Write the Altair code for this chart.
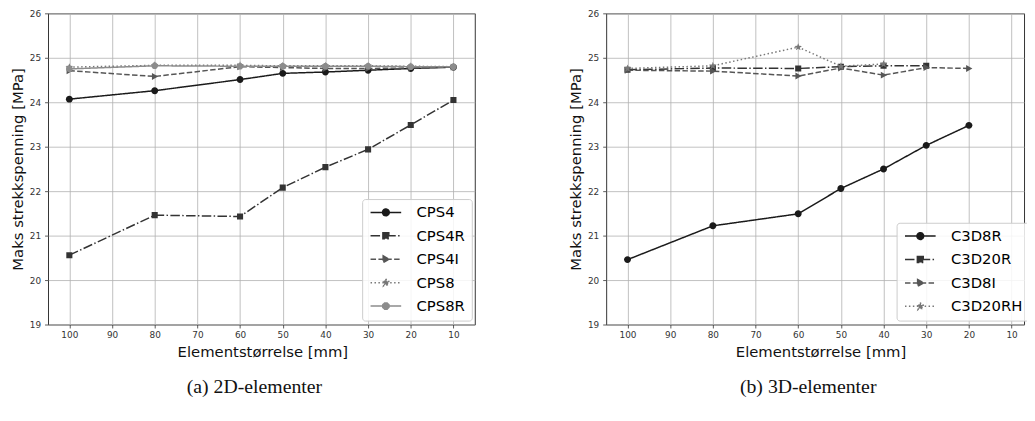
import math
import altair as alt
import pandas as pd

# ---------------- data ----------------
x_2d = [100, 80, 60, 50, 40, 30, 20, 10]
cps4 = [24.07, 24.26, 24.51, 24.65, 24.68, 24.72, 24.76, 24.79]
cps4r = [20.56, 21.46, 21.43, 22.08, 22.54, 22.94, 23.49, 24.05]
cps4i = [24.71, 24.58, 24.80, 24.78, 24.76, 24.76, 24.77, 24.79]
cps8 = [24.79, 24.83, 24.83, 24.82, 24.82, 24.82, 24.81, 24.80]
cps8r = [24.75, 24.82, 24.81, 24.81, 24.81, 24.81, 24.80, 24.80]
names_2d = ["CPS4", "CPS4R", "CPS4I", "CPS8", "CPS8R"]

x_3d = [100, 80, 60, 50, 40, 30, 20]
c3d8r = [20.46, 21.22, 21.49, 22.06, 22.50, 23.03, 23.48]
c3d20r = [24.73, 24.77, 24.76, 24.80, 24.82, 24.82]
c3d8i = [24.72, 24.70, 24.59, 24.77, 24.61, 24.78, 24.76]
c3d20rh = [24.76, 24.82, 25.24, 24.81, 24.86]
names_3d = ["C3D8R", "C3D20R", "C3D8I", "C3D20RH"]

x_ticks = [100, 90, 80, 70, 60, 50, 40, 30, 20, 10]
y_ticks = [19, 20, 21, 22, 23, 24, 25, 26]

# ---------------- styles ----------------
FONT = "DejaVu Sans"
GRAYS = ["#1a1a1a", "#333333", "#555555", "#777777", "#8c8c8c"]
SOLID = [1, 0]
DASHDOT = [9.6, 2.4, 1.5, 2.4]
DASHED = [5.55, 2.4]
DOTTED = [1.5, 2.475]


def poly(pts):
    return "M" + "L".join(f"{x:.3f},{y:.3f}" for x, y in pts) + "Z"


def circle_path(s, cx=0.0):
    return (f"M{cx + s:.3f},0A{s:.3f},{s:.3f} 0 1,1 {cx - s:.3f},0"
            f"A{s:.3f},{s:.3f} 0 1,1 {cx + s:.3f},0Z")


def square_path(s, cx=0.0):
    return poly([(cx - s, -s), (cx + s, -s), (cx + s, s), (cx - s, s)])


def tri_path(s, cx=0.0):
    return poly([(cx - 0.8 * s, -s), (cx + s, 0), (cx - 0.8 * s, s)])


def star_path(s, cx=0.0):
    pts = []
    for k in range(10):
        a = math.radians(-90 + 36 * k)
        r = s if k % 2 == 0 else 0.42 * s
        pts.append((cx + r * math.cos(a), r * math.sin(a)))
    return poly(pts)


def oct_path(s, cx=0.0):
    pts = []
    for k in range(8):
        a = math.radians(22.5 + 45 * k)
        pts.append((cx + s * math.cos(a), s * math.sin(a)))
    return poly(pts)


MARKERS = {
    "o": (circle_path, 1.0),
    "s": (square_path, 0.88),
    ">": (tri_path, 1.0),
    "*": (star_path, 1.15),
    "8": (oct_path, 1.0),
}


def panel(key, xs, ys, names, colors, dashes, marks, width, xdom, leg_xy, caption, cap_dx):
    xscale = alt.Scale(domain=xdom, nice=False, zero=False)
    yscale = alt.Scale(domain=[19, 26], nice=False, zero=False)
    xaxis = alt.Axis(
        values=x_ticks, format="d", title="Elementstørrelse [mm]", grid=True,
        domain=False, tickSize=3.5, tickWidth=0.8, tickColor="#333333",
        labelFont=FONT, labelFontSize=9, labelColor="#333333", labelPadding=3,
        labelFlush=False, labelOverlap=False,
        titleFont=FONT, titleFontSize=15, titleFontWeight="normal", titleColor="#111111",
        titleX=217, titleY=27, titleBaseline="middle", titleAlign="center",
        gridColor="#b0b0b0", gridWidth=0.8,
    )
    yaxis = alt.Axis(
        values=y_ticks, format="d", title="Maks strekkspenning [MPa]", grid=True,
        domain=False, tickSize=3.5, tickWidth=0.8, tickColor="#333333",
        labelFont=FONT, labelFontSize=9, labelColor="#333333", labelPadding=4,
        labelFlush=False, labelOverlap=False,
        titleFont=FONT, titleFontSize=15, titleFontWeight="normal", titleColor="#111111",
        titleX=-31, titleY=157.5, titleAngle=270, titleBaseline="middle", titleAlign="center",
        gridColor="#b0b0b0", gridWidth=0.8,
    )
    layers = []
    for i, name in enumerate(names):
        n = len(ys[i])
        df = pd.DataFrame({"size_mm": xs[:n], "value": ys[i], key: name})
        enc = dict(
            x=alt.X("size_mm:Q", scale=xscale, axis=xaxis),
            y=alt.Y("value:Q", scale=yscale, axis=yaxis),
        )
        fn, s = MARKERS[marks[i]]
        line = alt.Chart(df).mark_line(
            color=colors[i], strokeDash=dashes[i], strokeWidth=1.5, clip=True
        ).encode(**enc)
        pts = alt.Chart(df).mark_point(
            shape=fn(s), filled=True, size=49, color=colors[i], opacity=1, clip=True
        ).encode(**enc)
        layers += [line, pts]

    # legend carrier (draws no marks, only provides the legend)
    # symbol box is 10 px (size 100 -> 5 px per unit); line spans -1..5.2 units (31 px)
    sym = []
    for m in marks:
        fn, s = MARKERS[m]
        sym.append("M-1,0H5.2" + fn(0.68 * s, cx=2.1))
    leg = alt.Legend(
        title=None, orient="none", legendX=leg_xy[0], legendY=leg_xy[1],
        padding=6, rowPadding=7.7, labelFont=FONT, labelFontSize=15, labelColor="#000000",
        labelOffset=34, symbolSize=100, symbolStrokeWidth=1.5,
        strokeColor="#cccccc", fillColor="rgba(255,255,255,0.85)", cornerRadius=3,
    )
    ldf = pd.DataFrame({key: names})
    carrier = alt.Chart(ldf).mark_point(filled=True, size=100, strokeWidth=1.5, opacity=1).encode(
        shape=alt.Shape(f"{key}:N", scale=alt.Scale(domain=names, range=sym), legend=leg),
        fill=alt.Fill(f"{key}:N", scale=alt.Scale(domain=names, range=colors), legend=leg),
        stroke=alt.Stroke(f"{key}:N", scale=alt.Scale(domain=names, range=colors), legend=leg),
        strokeDash=alt.StrokeDash(f"{key}:N", scale=alt.Scale(domain=names, range=dashes), legend=leg),
    ).transform_filter("false")
    layers.append(carrier)

    return alt.layer(*layers).properties(
        width=width, height=315,
        title=alt.TitleParams(
            caption, orient="bottom", anchor="middle", frame="group", offset=18.5, dx=cap_dx,
            font="Liberation Serif", fontSize=20, fontWeight="normal", color="#111111",
        ),
    )


left = panel(
    "elem2d", x_2d, [cps4, cps4r, cps4i, cps8, cps8r], names_2d, GRAYS,
    [SOLID, DASHDOT, DASHED, DOTTED, SOLID], ["o", "s", ">", "*", "8"],
    432, [105, 5], (318, 188), "(a) 2D-elementer", -7,
)
right = panel(
    "elem3d", x_3d, [c3d8r, c3d20r, c3d8i, c3d20rh], names_3d, GRAYS[:4],
    [SOLID, DASHDOT, DASHED, DOTTED], ["o", "s", ">", "*"],
    423, [105, 105 - 423 / 4.32], (294, 212), "(b) 3D-elementer", -7,
)

ind = dict(shape="independent", fill="independent", stroke="independent", strokeDash="independent")
chart = alt.hconcat(left, right, spacing=133, bounds="flush").resolve_scale(**ind).resolve_legend(**ind).properties(
    padding={"left": 1.5, "top": -2, "right": -3, "bottom": 0},
    background="white",
).configure_view(stroke="#333333", strokeWidth=1)

chart.save("out.html", embed_options={"renderer": "svg", "actions": False})
